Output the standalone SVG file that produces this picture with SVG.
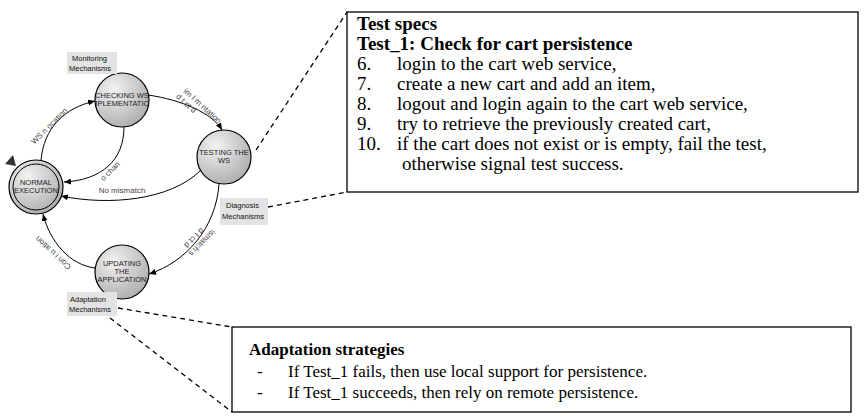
<svg xmlns="http://www.w3.org/2000/svg" width="865" height="418" viewBox="0 0 865 418">
  <style>
    .state { stroke: #000; stroke-width: 1.2; fill: url(#stateFill); }
    .ring { fill: none; stroke: #000; stroke-width: 1; }
    .sname { font-family: "Liberation Sans", Arial, sans-serif; font-size: 7.5px; fill: #222; text-anchor: middle; }
    .tag rect { fill: #e3e3e3; }
    .tag text { font-family: "Liberation Sans", Arial, sans-serif; font-size: 7.5px; fill: #111; }
    .edge { fill: none; stroke: #000; stroke-width: 1; marker-end: url(#head); }
    .elabel { font-family: "Liberation Sans", Arial, sans-serif; font-size: 8px; fill: #444; }
    .callout { fill: none; stroke: #000; stroke-width: 1.3; stroke-dasharray: 5 4; }
    .note { fill: #fff; stroke: #000; stroke-width: 1.3; }
    .nt { font-family: "Liberation Serif", "Times New Roman", serif; font-size: 19px; fill: #000; }
    .na { font-family: "Liberation Serif", "Times New Roman", serif; font-size: 17px; fill: #000; }
    .nb { font-weight: bold; }
  </style>
  <defs>
    <radialGradient id="stateFill" cx="0.35" cy="0.3" r="0.8">
      <stop offset="0" stop-color="#f2f2f2"/>
      <stop offset="1" stop-color="#a9a9a9"/>
    </radialGradient>
    <marker id="head" markerUnits="userSpaceOnUse" markerWidth="8" markerHeight="6" refX="7" refY="3" orient="auto">
      <path d="M0,0 L7,3 L0,6 z" fill="#000"/>
    </marker>
    <clipPath id="clipNormal"><circle cx="36" cy="187" r="23"/></clipPath>
    <clipPath id="clipChecking"><circle cx="122" cy="100" r="27"/></clipPath>
    <clipPath id="clipTesting"><circle cx="224" cy="157" r="27"/></clipPath>
    <clipPath id="clipUpdating"><circle cx="122" cy="272" r="27"/></clipPath>
  </defs>

  <!-- state machine -->
  <g id="normal-execution">
    <circle class="state" cx="36" cy="187" r="27"/>
    <circle class="ring" cx="36" cy="187" r="23"/>
    <polygon points="5,164 13,155 16,166" fill="#333"/>
    <g clip-path="url(#clipNormal)">
      <text class="sname" x="36" y="185">NORMAL</text>
      <text class="sname" x="36" y="193">EXECUTION</text>
    </g>
  </g>

  <g id="checking-ws">
    <circle class="state" cx="122" cy="100" r="27"/>
    <g clip-path="url(#clipChecking)">
      <text class="sname" x="122" y="98">CHECKING WS</text>
      <text class="sname" x="122" y="106">IMPLEMENTATION</text>
    </g>
  </g>

  <g id="testing-ws">
    <circle class="state" cx="224" cy="157" r="27"/>
    <g clip-path="url(#clipTesting)">
      <text class="sname" x="224" y="155">TESTING THE</text>
      <text class="sname" x="224" y="163">WS</text>
    </g>
  </g>

  <g id="updating-app">
    <circle class="state" cx="122" cy="272" r="27"/>
    <g clip-path="url(#clipUpdating)">
      <text class="sname" x="122" y="266">UPDATING</text>
      <text class="sname" x="122" y="274">THE</text>
      <text class="sname" x="122" y="282">APPLICATION</text>
    </g>
  </g>

  <g id="monitoring-tag" class="tag">
    <rect x="67" y="52" width="50" height="22"/>
    <text x="72" y="61">Monitoring</text>
    <text x="69" y="71">Mechanisms</text>
  </g>

  <g id="diagnosis-tag" class="tag">
    <rect x="220" y="198" width="48" height="27"/>
    <text x="226" y="208">Diagnosis</text>
    <text x="222" y="219">Mechanisms</text>
  </g>

  <g id="adaptation-tag" class="tag">
    <rect x="67" y="292" width="50" height="24"/>
    <text x="70" y="302">Adaptation</text>
    <text x="69" y="312">Mechanisms</text>
  </g>

  <!-- transitions -->
  <g id="transitions">
    <path class="edge" d="M41,160 C44,128 64,108 95,101"/>
    <path class="edge" d="M148,95 C182,100 212,113 222,130"/>
    <path class="edge" d="M124,127 C124,160 102,180 64,182"/>
    <path class="edge" d="M200,171 C170,200 110,206 61,196"/>
    <path class="edge" d="M219,184 C216,228 186,262 149,274"/>
    <path class="edge" d="M95,268 C70,265 50,242 43,214"/>

    <text class="elabel" text-anchor="middle" transform="translate(51,128) rotate(-45)">WS  n ocation</text>
    <text class="elabel" text-anchor="middle" transform="translate(112,173) rotate(-45)">o chan</text>
    <g transform="translate(183,92) rotate(42)">
      <text class="elabel" x="0" y="0">im  l m  ntation</text>
      <text class="elabel" x="-2" y="9">d  t ct d</text>
    </g>
    <text class="elabel" x="122" y="193" text-anchor="middle">No mismatch</text>
    <g transform="translate(200,241) rotate(135)">
      <text class="elabel" x="0" y="0" text-anchor="middle">ismatch s</text>
      <text class="elabel" x="2" y="9" text-anchor="middle">d  t ct d</text>
    </g>
    <text class="elabel" text-anchor="middle" transform="translate(55,251) rotate(223)">Con  i u ation</text>
  </g>

  <!-- callout leaders -->
  <g id="callouts">
    <line class="callout" x1="256" y1="150" x2="347" y2="12"/>
    <line class="callout" x1="268" y1="207" x2="347" y2="192"/>
    <line class="callout" x1="118" y1="308" x2="232" y2="327"/>
    <line class="callout" x1="110" y1="318" x2="232" y2="412"/>
  </g>

  <!-- test specification note -->
  <g id="test-specs">
    <rect class="note" x="347" y="12" width="511" height="180"/>
    <text class="nt nb" x="357" y="30">Test specs</text>
    <text class="nt nb" x="357" y="50">Test_1: Check for cart persistence</text>
    <text class="nt" x="357" y="70">6.</text>
    <text class="nt" x="397" y="70">login to the cart web service,</text>
    <text class="nt" x="357" y="90">7.</text>
    <text class="nt" x="397" y="90">create a new cart and add an item,</text>
    <text class="nt" x="357" y="110">8.</text>
    <text class="nt" x="397" y="110">logout and login again to the cart web service,</text>
    <text class="nt" x="357" y="130">9.</text>
    <text class="nt" x="397" y="130">try to retrieve the previously created cart,</text>
    <text class="nt" x="357" y="150">10.</text>
    <text class="nt" x="397" y="150">if the cart does not exist or is empty, fail the test,</text>
    <text class="nt" x="402" y="170">otherwise signal test success.</text>
  </g>

  <!-- adaptation strategy note -->
  <g id="adaptation-strategies">
    <rect class="note" x="232" y="327" width="619" height="85"/>
    <text class="na nb" x="249" y="355">Adaptation strategies</text>
    <text class="na" x="257" y="377">-</text>
    <text class="na" x="288" y="377">If Test_1 fails, then use local support for persistence.</text>
    <text class="na" x="257" y="398">-</text>
    <text class="na" x="288" y="398">If Test_1 succeeds, then rely on remote persistence.</text>
  </g>
</svg>
